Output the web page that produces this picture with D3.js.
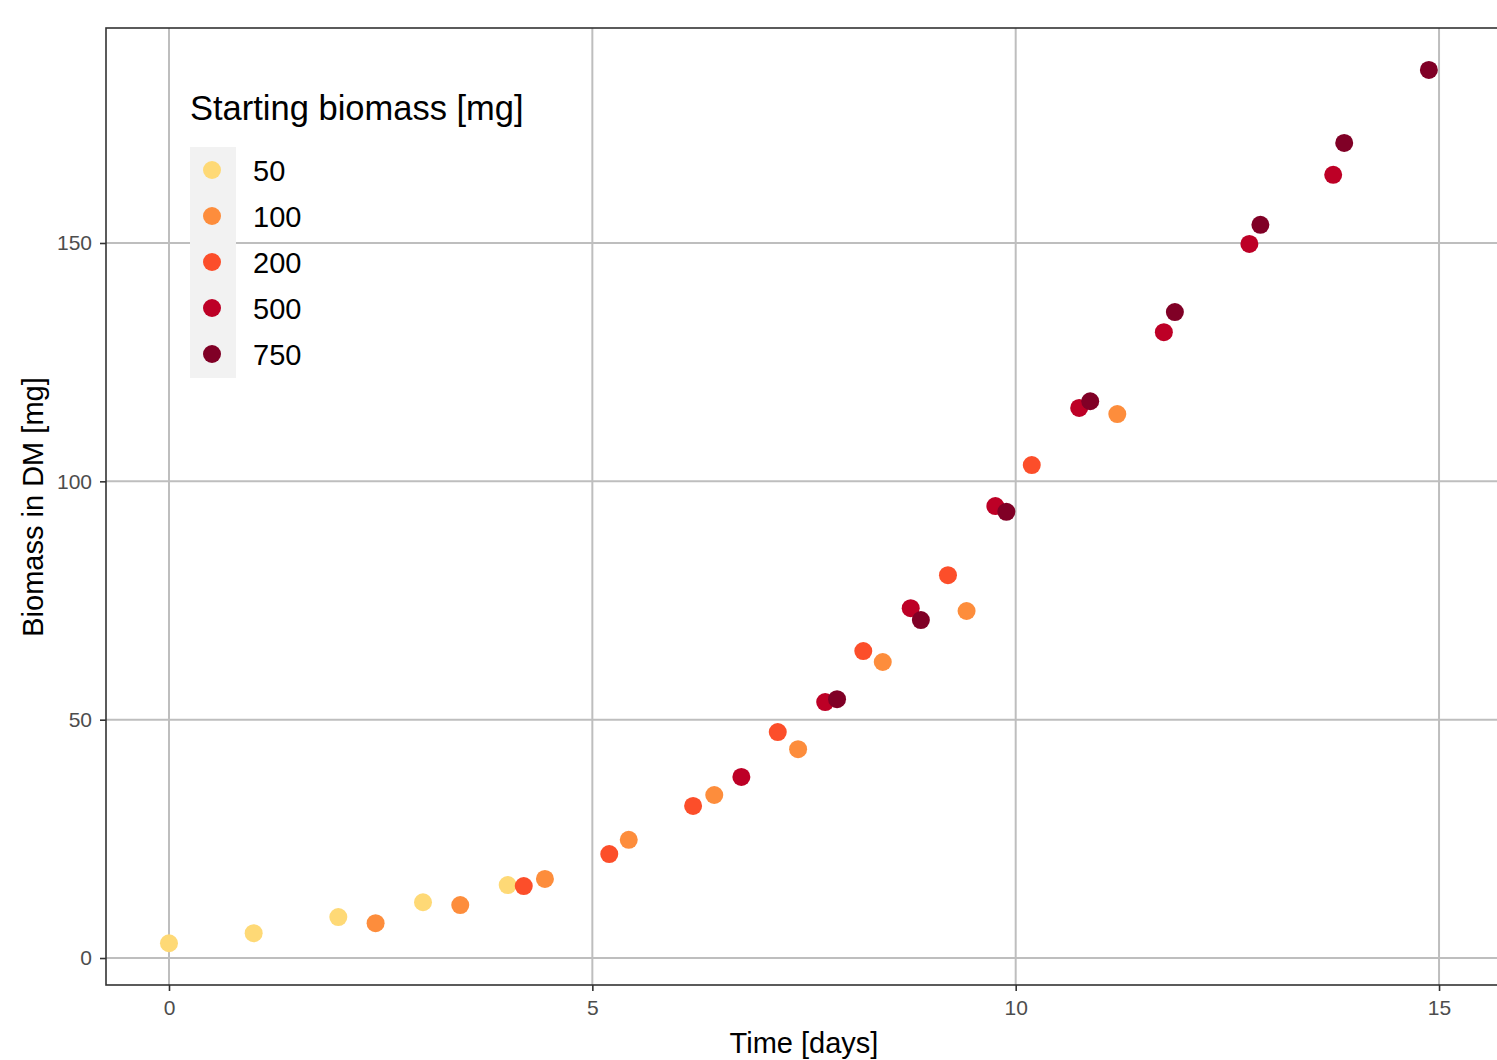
<!DOCTYPE html>
<html><head><meta charset="utf-8">
<script src="https://cdn.jsdelivr.net/npm/d3@7"></script>
<style>body{margin:0;background:#fff;overflow:hidden}text{font-family:Arial,"Liberation Sans",sans-serif}</style>
</head><body><svg id="c" width="1497" height="1060"></svg>
<script>
const groups = ["50","100","200","500","750"];
const colors = ["#FED976","#FD8D3C","#FC4E2A","#BD0026","#800026"];
const days50 = [0,1,2,3,4];
const mass50 = [3.1,5.2,8.6,11.7,15.3];
const days100 = [2.44,3.44,4.44,5.43,6.44,7.43,8.43,9.42,11.2];
const mass100 = [7.3,11.1,16.6,24.8,34.2,43.8,62.1,72.8,114.1];
const days200 = [4.19,5.2,6.19,7.19,8.2,9.2,10.19];
const mass200 = [15.1,21.8,31.9,47.4,64.4,80.3,103.4];
const days500 = [6.76,7.75,8.76,9.76,10.75,11.75,12.76,13.75];
const mass500 = [38.0,53.7,73.4,94.8,115.4,131.3,149.8,164.3];
const days750 = [7.89,8.88,9.89,10.88,11.88,12.89,13.88,14.88];
const mass750 = [54.3,70.9,93.6,116.8,135.5,153.8,171.0,186.3];
const xTicks = [0,5,10,15];
const yTicks = [0,50,100,150];

const series = [[days50,mass50],[days100,mass100],[days200,mass200],[days500,mass500],[days750,mass750]];
const pts = [];
series.forEach((s,gi)=>s[0].forEach((d,i)=>pts.push({g:gi,x:d,y:s[1][i]})));

const svg = d3.select("#c");
const L=106, R=1500, T=28, B=985;
const x = d3.scaleLinear().domain([-0.744,15.72]).range([L,R]);
const y = d3.scaleLinear().domain([-5.66,195.1]).range([B,T]);
const col = d3.scaleOrdinal().domain(d3.range(5)).range(colors);

// grid
svg.append("g").selectAll("line").data(xTicks).join("line")
  .attr("x1",d=>x(d)).attr("x2",d=>x(d)).attr("y1",T).attr("y2",B)
  .attr("stroke","#bebebe").attr("stroke-width",2);
svg.append("g").selectAll("line").data(yTicks).join("line")
  .attr("y1",d=>y(d)).attr("y2",d=>y(d)).attr("x1",L).attr("x2",R)
  .attr("stroke","#bebebe").attr("stroke-width",2);

// points
svg.append("g").selectAll("circle").data(pts).join("circle")
  .attr("cx",d=>x(d.x)).attr("cy",d=>y(d.y)).attr("r",9)
  .attr("fill",d=>col(d.g));

// frame
svg.append("rect").attr("x",L).attr("y",T).attr("width",R-L).attr("height",B-T)
  .attr("fill","none").attr("stroke","#333").attr("stroke-width",1.6);

// axes
const xa = svg.append("g").attr("transform",`translate(0,${B})`)
  .call(d3.axisBottom(x).tickValues(xTicks).tickSize(6).tickPadding(9));
const ya = svg.append("g").attr("transform",`translate(${L},0)`)
  .call(d3.axisLeft(y).tickValues(yTicks).tickSize(6).tickPadding(8));
[xa,ya].forEach(a=>{
  a.select(".domain").remove();
  a.selectAll(".tick line").attr("stroke","#333").attr("stroke-width",1.6);
  a.selectAll(".tick text").attr("fill","#4d4d4d").style("font-size","21px");
});

svg.append("text").attr("x",804).attr("y",1053).attr("text-anchor","middle")
  .style("font-size","29px").attr("fill","#000").text("Time [days]");
svg.append("text").attr("transform","translate(43,507) rotate(-90)").attr("text-anchor","middle")
  .style("font-size","29px").attr("fill","#000").text("Biomass in DM [mg]");

// legend
const lg = svg.append("g");
lg.append("text").attr("x",190).attr("y",120).style("font-size","34.5px").attr("fill","#000")
  .text("Starting biomass [mg]");
lg.append("rect").attr("x",190).attr("y",147).attr("width",46).attr("height",231).attr("fill","#f2f2f2");
const items = lg.selectAll("g.it").data(groups).join("g").attr("class","it")
  .attr("transform",(d,i)=>`translate(0,${170+i*46})`);
items.append("circle").attr("cx",212).attr("cy",0).attr("r",9).attr("fill",(d,i)=>colors[i]);
items.append("text").attr("x",253).attr("y",11).style("font-size","29px").attr("fill","#000").text(d=>d);
</script></body></html>
